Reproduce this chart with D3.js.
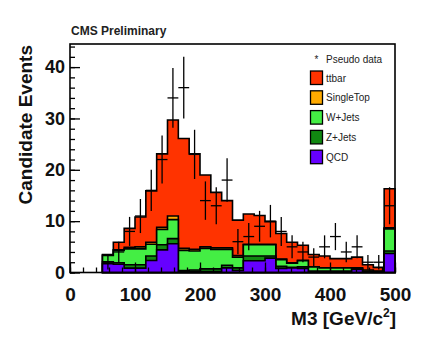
<!DOCTYPE html>
<html>
<head>
<meta charset="utf-8">
<script src="https://cdn.jsdelivr.net/npm/d3@7"></script>
<style>
  html, body { margin: 0; padding: 0; background: #fff; }
  svg { display: block; font-family: "Liberation Sans", Arial, sans-serif; }
</style>
</head>
<body>
<div id="container"></div>
<script>
// M3 distribution, 30 bins of 500/30 GeV from 0 to 500; values start at bin 3 (50 GeV)
const binWidth = 500 / 30;
const firstBin = 3;

// per-process expected events, bottom of stack first
const qcd = [1.7, 1.6, 0.85, 0.85, 2.35, 4.4, 5.6, 0.2, 0.2, 0.2, 0.2, 0.9, 0.4, 2.3, 2.3, 2.8, 0.8, 0.9, 0.8, 0, 0, 0, 0, 0.6, 0, 0, 3.7];
const zjets = [0.4, 0.3, 0.65, 0.65, 0.85, 1.0, 1.0, 0.2, 0.3, 0.5, 0.5, 0.5, 0.5, 0.9, 0.9, 0.4, 0.4, 0.1, 0.3, 0.3, 0.3, 0.3, 0.3, 0.1, 0.1, 0.1, 0.5];
const wjets = [1.2, 2.4, 3.1, 3.1, 2.3, 3.0, 3.7, 3.9, 3.7, 4.0, 3.8, 3.1, 2.1, 2.2, 2.2, 2.2, 1.3, 0.8, 1.2, 0.8, 0.6, 0.6, 0.6, 0.2, 0.2, 0.1, 4.3];
const singleTop = [0.1, 0.1, 0.3, 0.4, 0.4, 0.4, 0.7, 0.4, 0.3, 0.3, 0.3, 0.3, 0.3, 0.1, 0.1, 0.1, 0.1, 0.1, 0.1, 0, 0, 0, 0, 0, 0.2, 0.1, 0.2];
const ttbar = [0.1, 1.5, 3.7, 5.8, 10.0, 14.3, 18.7, 21.4, 18.6, 14.0, 10.8, 9.2, 6.9, 5.9, 5.6, 4.4, 5.0, 4.0, 2.9, 2.4, 2.3, 1.8, 1.8, 2.1, 1.0, 0.7, 7.6];

// pseudo data counts
const pseudoData = [2, 4, 8, 11, 16, 22, 34, 36, 23, 14, 13, 18, 6, 7, 9, 10, 8, 5, 4, 3, 5, 7, 4, 5, 2, 2, 13];

const processes = [
  { name: "ttbar", values: ttbar, color: "#ff3300" },
  { name: "SingleTop", values: singleTop, color: "#ffaa00" },
  { name: "W+Jets", values: wjets, color: "#44ee44" },
  { name: "Z+Jets", values: zjets, color: "#118811" },
  { name: "QCD", values: qcd, color: "#6600ff" }
];

const xTicks = [0, 100, 200, 300, 400, 500];
const yTicks = [0, 10, 20, 30, 40];

const width = 436, height = 341;
const plot = { left: 70, right: 395, top: 44, bottom: 272.5 };

const svg = d3.select("#container").append("svg")
  .attr("width", width)
  .attr("height", height);

const x = d3.scaleLinear().domain([0, 500]).range([plot.left, plot.right]);
const y = d3.scaleLinear().domain([0, 44.5]).range([plot.bottom, plot.top]);

// cumulative stacks (bottom to top order for summing)
const bottomFirst = processes.slice().reverse();
let running = pseudoData.map(() => 0);
bottomFirst.forEach(p => {
  running = running.map((v, i) => v + p.values[i]);
  p.cum = running.slice();
});

const line = d3.line().x(d => x(d[0])).y(d => y(d[1]));

function stepPoints(vals) {
  const lo0 = firstBin * binWidth;
  const pts = [[lo0, 0]];
  vals.forEach((v, i) => {
    const lo = (firstBin + i) * binWidth;
    pts.push([lo, v], [lo + binWidth, v]);
  });
  pts.push([500, 0]);
  return pts;
}

// draw top layer first so lower layers paint over it
const hist = svg.append("g");
processes.forEach(p => {
  hist.append("path")
    .attr("d", line(stepPoints(p.cum)) + "Z")
    .attr("fill", p.color)
    .attr("stroke", "#000")
    .attr("stroke-width", 1.6)
    .attr("stroke-linejoin", "miter");
});

// pseudo data crosses
const dataG = svg.append("g").attr("stroke", "#000").attr("stroke-width", 1.3);
pseudoData.forEach((n, i) => {
  const lo = (firstBin + i) * binWidth;
  const c = lo + binWidth / 2;
  const err = Math.sqrt(n);
  dataG.append("line")
    .attr("x1", x(lo)).attr("x2", x(lo + binWidth))
    .attr("y1", y(n)).attr("y2", y(n));
  dataG.append("line")
    .attr("x1", x(c)).attr("x2", x(c))
    .attr("y1", y(n - err)).attr("y2", y(Math.min(n + err, 44.5)));
});

// frame
svg.append("rect")
  .attr("x", plot.left).attr("y", plot.top)
  .attr("width", plot.right - plot.left)
  .attr("height", plot.bottom - plot.top)
  .attr("fill", "none")
  .attr("stroke", "#000")
  .attr("stroke-width", 1.6);

// axes with ticks drawn inward
const yMinor = d3.range(0, 44.5, 2);
svg.append("g")
  .attr("transform", `translate(${plot.left},0)`)
  .call(d3.axisRight(y).tickValues(yMinor).tickSize(5).tickFormat(""))
  .call(g => g.select(".domain").remove())
  .call(g => g.selectAll("line").attr("stroke-width", 1.3));
svg.append("g")
  .attr("transform", `translate(${plot.left},0)`)
  .call(d3.axisRight(y).tickValues(yTicks).tickSize(10).tickPadding(-26))
  .call(g => g.select(".domain").remove())
  .call(g => g.selectAll("line").attr("stroke-width", 1.3))
  .call(g => g.selectAll("text")
    .attr("text-anchor", "end")
    .attr("x", -5)
    .attr("font-size", 18)
    .attr("font-weight", "bold")
    .attr("fill", "#111"));

const xMinor = d3.range(0, 501, 20);
svg.append("g")
  .attr("transform", `translate(0,${plot.bottom})`)
  .call(d3.axisTop(x).tickValues(xMinor).tickSize(5).tickFormat(""))
  .call(g => g.select(".domain").remove())
  .call(g => g.selectAll("line").attr("stroke-width", 1.3));
svg.append("g")
  .attr("transform", `translate(0,${plot.bottom})`)
  .call(d3.axisTop(x).tickValues(xTicks).tickSize(10))
  .call(g => g.select(".domain").remove())
  .call(g => g.selectAll("line").attr("stroke-width", 1.3))
  .call(g => g.selectAll("text")
    .attr("y", 28)
    .attr("font-size", 19)
    .attr("font-weight", "bold")
    .attr("fill", "#111"));

// titles
svg.append("text")
  .attr("x", 71).attr("y", 35)
  .attr("font-size", 12)
  .attr("font-weight", "bold")
  .attr("fill", "#222")
  .text("CMS Preliminary");

svg.append("text")
  .attr("transform", "translate(32,45) rotate(-90)")
  .attr("text-anchor", "end")
  .attr("font-size", 19)
  .attr("font-weight", "bold")
  .attr("fill", "#111")
  .text("Candidate Events");

const xTitle = svg.append("text")
  .attr("x", 396).attr("y", 325)
  .attr("text-anchor", "end")
  .attr("font-size", 19)
  .attr("font-weight", "bold")
  .attr("fill", "#111");
xTitle.append("tspan").text("M3 [GeV/c");
xTitle.append("tspan").attr("font-size", 12).attr("dy", -8).text("2");
xTitle.append("tspan").attr("dy", 8).text("]");

// legend
const legend = svg.append("g").attr("font-size", 10).attr("fill", "#222");
legend.append("text")
  .attr("x", 316.5).attr("y", 63)
  .attr("text-anchor", "middle")
  .attr("font-size", 10)
  .text("*");
legend.append("text")
  .attr("x", 326).attr("y", 62.5)
  .text("Pseudo data");
processes.forEach((p, i) => {
  const top = 71 + i * 19.8;
  legend.append("rect")
    .attr("x", 310.5).attr("y", top)
    .attr("width", 12).attr("height", 13.5)
    .attr("fill", p.color)
    .attr("stroke", "#000")
    .attr("stroke-width", 1.3);
  legend.append("text")
    .attr("x", 326).attr("y", top + 10.5)
    .text(p.name);
});
</script>
</body>
</html>
